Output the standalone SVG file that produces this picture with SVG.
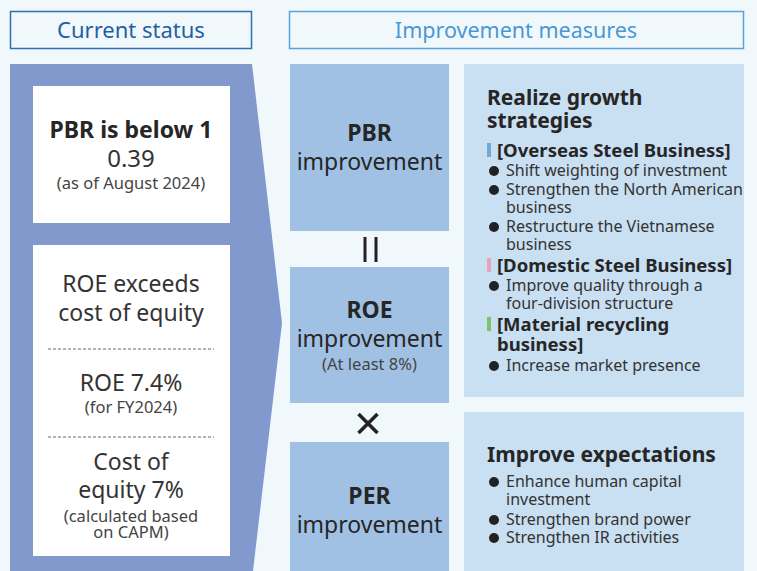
<svg xmlns="http://www.w3.org/2000/svg" width="757" height="571" viewBox="0 0 757 571">
<style>
text{font-family:"Noto Sans","Open Sans","DejaVu Sans",sans-serif;fill:#262626}
.c{text-anchor:middle}
.b{font-weight:bold}
.m{font-size:23px}
.h{font-size:21px;font-weight:bold}
.l{font-size:23px;fill:#333}
.s{font-size:16.5px;fill:#444}
.r{font-size:16px;fill:#333}
.t{font-size:18.5px;font-weight:bold}
.mid{fill:#a1c1e4}
.right{fill:#c9dff2}
.dash{stroke:#666;stroke-width:1;stroke-dasharray:3 2}
</style>
<rect width="757" height="571" fill="#f1f8fc"/>
<g id="hdr-current">
<rect x="10.5" y="11.5" width="241" height="37" fill="#f1f8fc" stroke="#2f6fb3" stroke-width="1.5"/>
<text x="131" y="38" class="c" style="font-size:22px;fill:#1f5fa5">Current status</text>
</g>
<g id="hdr-improve">
<rect x="289.5" y="11.5" width="454" height="37" fill="#f1f8fc" stroke="#5aa2d9" stroke-width="1.5"/>
<text x="516" y="38" class="c" style="font-size:21.5px;fill:#4a98d3">Improvement measures</text>
</g>
<g id="current">
<polygon points="10,64 252,64 282,323 253,571 10,571" fill="#8199cd"/>
</g>
<g id="pbr-status">
<rect x="33" y="86" width="197" height="137" fill="#fff"/>
<text x="131" y="138" class="c m b">PBR is below 1</text>
<text x="131" y="167" class="c" style="font-size:24px;fill:#333">0.39</text>
<text x="131" y="189" class="c s">(as of August 2024)</text>
</g>
<g id="roe-status">
<rect x="33" y="245" width="197" height="311" fill="#fff"/>
<text x="131" y="292" class="c l">ROE exceeds</text>
<text x="131" y="321" class="c l">cost of equity</text>
<line x1="48" y1="349" x2="214" y2="349" class="dash"/>
<text x="131" y="391" class="c l">ROE 7.4%</text>
<text x="131" y="413" class="c s">(for FY2024)</text>
<line x1="48" y1="437" x2="214" y2="437" class="dash"/>
<text x="131" y="470" class="c l">Cost of</text>
<text x="131" y="498" class="c l">equity 7%</text>
<text x="131" y="522" class="c s">(calculated based</text>
<text x="131" y="538" class="c s">on CAPM)</text>
</g>
<g id="pbr-imp">
<rect x="290" y="64" width="159" height="167" class="mid"/>
<text x="369.5" y="141" class="c m b">PBR</text>
<text x="369.5" y="170" class="c m">improvement</text>
</g>
<g id="roe-imp">
<rect x="290" y="267" width="159" height="136" class="mid"/>
<text x="369.5" y="318" class="c m b">ROE</text>
<text x="369.5" y="347" class="c m">improvement</text>
<text x="369.5" y="370" class="c s">(At least 8%)</text>
</g>
<g id="per-imp">
<rect x="290" y="442" width="159" height="129" class="mid"/>
<text x="369.5" y="504" class="c m b">PER</text>
<text x="369.5" y="533" class="c m">improvement</text>
</g>
<g id="connectors">
<line x1="365" y1="237" x2="365" y2="262" stroke="#222" stroke-width="3"/>
<line x1="376" y1="237" x2="376" y2="262" stroke="#222" stroke-width="3"/>
<line x1="358.5" y1="414" x2="377.5" y2="433" stroke="#222" stroke-width="3.5"/>
<line x1="377.5" y1="414" x2="358.5" y2="433" stroke="#222" stroke-width="3.5"/>
</g>
<g id="growth">
<rect x="464" y="64" width="280" height="333" class="right"/>
<text x="487" y="105" class="h">Realize growth</text>
<text x="487" y="128" class="h">strategies</text>
<rect x="487" y="143" width="4" height="14" fill="#72a9d6"/>
<text x="497" y="157" class="t">[Overseas Steel Business]</text>
<circle cx="494" cy="171" r="5" fill="#222"/>
<text x="506" y="176" class="r">Shift weighting of investment</text>
<circle cx="494" cy="190" r="5" fill="#222"/>
<text x="506" y="195" class="r">Strengthen the North American</text>
<text x="506" y="213" class="r">business</text>
<circle cx="494" cy="227" r="5" fill="#222"/>
<text x="506" y="232" class="r">Restructure the Vietnamese</text>
<text x="506" y="250" class="r">business</text>
<rect x="487" y="258" width="4" height="14" fill="#e8a3b9"/>
<text x="497" y="272" class="t">[Domestic Steel Business]</text>
<circle cx="494" cy="286" r="5" fill="#222"/>
<text x="506" y="291" class="r">Improve quality through a</text>
<text x="506" y="309" class="r">four-division structure</text>
<rect x="487" y="317" width="4" height="14" fill="#7cc46a"/>
<text x="497" y="331" class="t">[Material recycling</text>
<text x="497" y="351" class="t">business]</text>
<circle cx="494" cy="366" r="5" fill="#222"/>
<text x="506" y="371" class="r">Increase market presence</text>
</g>
<g id="expect">
<rect x="464" y="412" width="280" height="159" class="right"/>
<text x="487" y="462" class="h">Improve expectations</text>
<circle cx="494" cy="482" r="5" fill="#222"/>
<text x="506" y="487" class="r">Enhance human capital</text>
<text x="506" y="505" class="r">investment</text>
<circle cx="494" cy="520" r="5" fill="#222"/>
<text x="506" y="525" class="r">Strengthen brand power</text>
<circle cx="494" cy="538" r="5" fill="#222"/>
<text x="506" y="543" class="r">Strengthen IR activities</text>
</g>
</svg>
